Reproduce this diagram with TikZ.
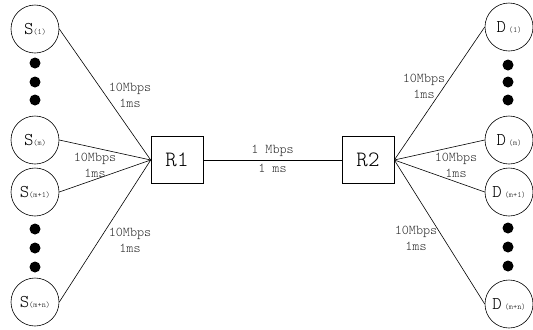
\documentclass[tikz,border=0pt]{standalone}
\usepackage{fontspec}
\setmonofont{Latin Modern Mono Light}
\newcommand\hostS[1]{{\fontsize{18}{18}\selectfont S}{\fontsize{8}{8}\selectfont #1}}
\newcommand\hostD[1]{{\fontsize{18}{18}\selectfont D}\hspace{3bp}{\fontsize{8}{8}\selectfont #1}}
\begin{document}
\begin{tikzpicture}[x=1bp,y=-1bp, line width=0.6pt, font=\ttfamily,
  host/.style={draw, circle, minimum size=48bp, inner sep=0pt},
  router/.style={draw, minimum width=52bp, minimum height=47bp, inner sep=0pt, font=\ttfamily\fontsize{22}{22}\selectfont},
  bigdot/.style={fill, circle, minimum size=11bp, inner sep=0pt},
  lbl/.style={font=\ttfamily\fontsize{13.5}{16}\selectfont, align=center, inner sep=0pt, text=black!85},
  link/.style={draw}]
\useasboundingbox (0,0) rectangle (533,329);
% hosts
\node[host] (S1)  at (35,29)  {\hostS{(1)}};
\node[host] (Sm)  at (35,140) {\hostS{(m)}};
\node[host] (Sm1) at (35,192) {\hostS{(m+1)}};
\node[host] (Smn) at (35,302) {\hostS{(m+n)}};
\node[host] (D1)  at (509,27)  {\hostD{(1)}};
\node[host] (Dm)  at (509,140) {\hostD{(m)}};
\node[host] (Dm1) at (509,192) {\hostD{(m+1)}};
\node[host] (Dmn) at (509,304) {\hostD{(m+n)}};
% dots
\node[bigdot] (ld1) at (35,63) {};
\node[bigdot] (ld2) at (35,82) {};
\node[bigdot] (ld3) at (35,100) {};
\node[bigdot] (ld4) at (35,229) {};
\node[bigdot] (ld5) at (35,248) {};
\node[bigdot] (ld6) at (35,267) {};
\node[bigdot] (rd1) at (508,65) {};
\node[bigdot] (rd2) at (508,82) {};
\node[bigdot] (rd3) at (508,100) {};
\node[bigdot] (rd4) at (508,228) {};
\node[bigdot] (rd5) at (508,247) {};
\node[bigdot] (rd6) at (508,266) {};
% routers
\node[router] (R1) at (177,160) {R1};
\node[router] (R2) at (368,160) {R2};
% links
\draw[link] (S1.east)  -- (R1.west);
\draw[link] (Sm.east)  -- (R1.west);
\draw[link] (Sm1.east) -- (R1.west);
\draw[link] (Smn.east) -- (R1.west);
\draw[link] (D1.west)  -- (R2.east);
\draw[link] (Dm.west)  -- (R2.east);
\draw[link] (Dm1.west) -- (R2.east);
\draw[link] (Dmn.west) -- (R2.east);
\draw[link] (R1.east) -- (R2.west)
  node[lbl, midway, yshift=9bp] (bw) {1 Mbps}
  node[lbl, midway, yshift=-8bp] (dl) {1 ms};
% link labels
\node[lbl] (L1) at (130,95)  {10Mbps\\1ms};
\node[lbl] (L2) at (95,165)  {10Mbps\\1ms};
\node[lbl] (L3) at (130,240) {10Mbps\\1ms};
\node[lbl] (L4) at (424,86)  {10Mbps\\1ms};
\node[lbl] (L5) at (456,165) {10Mbps\\1ms};
\node[lbl] (L6) at (416,238) {10Mbps\\1ms};
\end{tikzpicture}
\end{document}
